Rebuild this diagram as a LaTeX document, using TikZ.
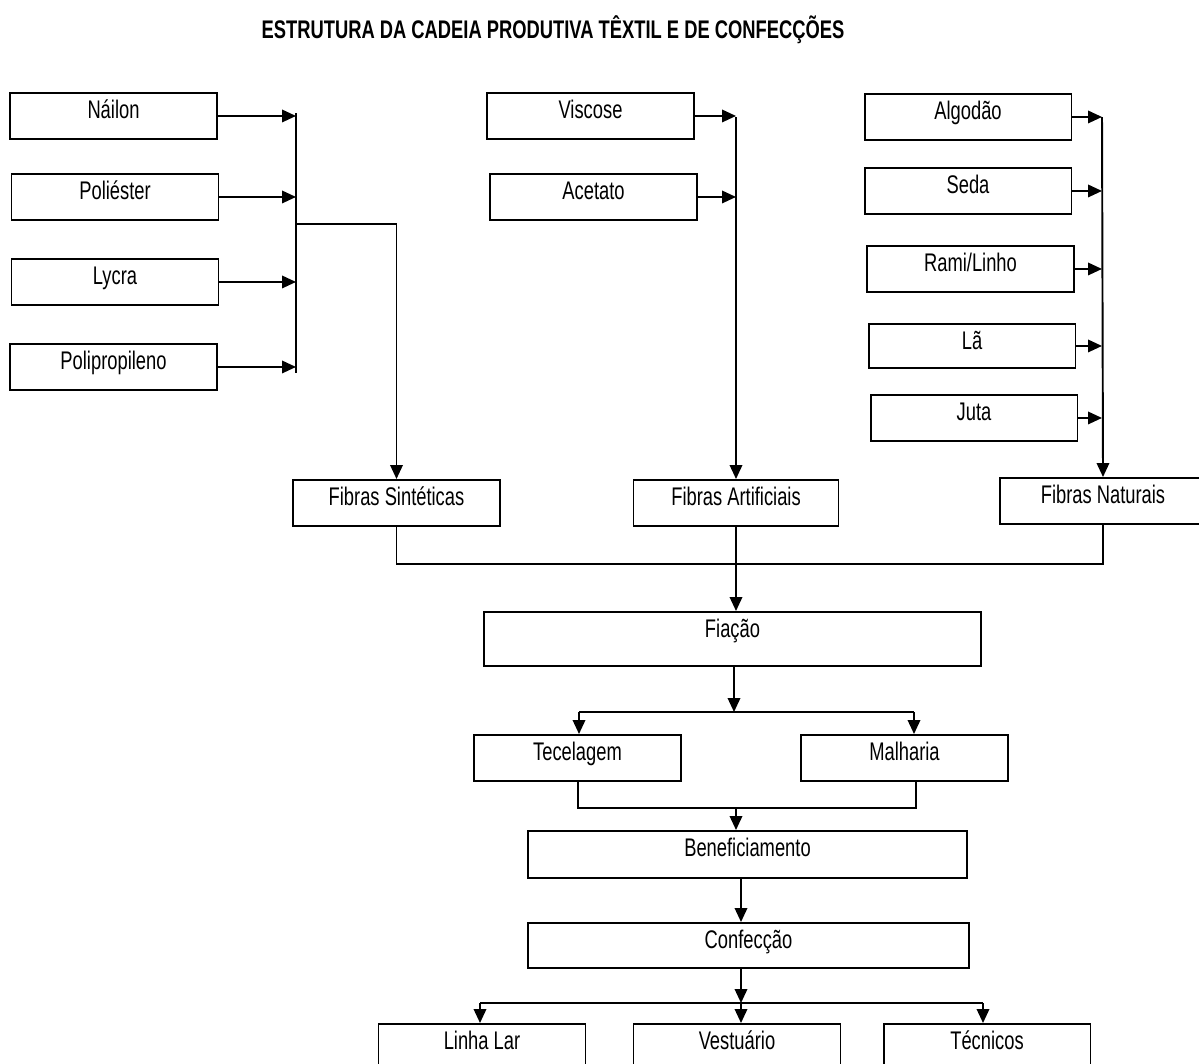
\documentclass[tikz,border=0pt]{standalone}
\usepackage{fontspec}
\setmainfont{Liberation Sans}[FakeStretch=0.72]
\usetikzlibrary{arrows.meta}
\tikzset{
  caixa/.style={draw,line width=1.1pt,anchor=north,inner sep=0pt,minimum width=4.14cm,text height=0.52cm,text depth=0.4cm,font=\fontsize{14.5}{17}\selectfont},
  seta/.style={line width=1.1pt,-{Triangle[length=0.28cm,width=0.25cm]}},
  liga/.style={line width=1.1pt}
}
\newcommand{\caixa}[4][]{\node[caixa,#1] (#2) at #3 {#4};}
\newcommand{\entra}[2]{\draw[seta] (#1.east) -- (#1.east -| #2);}

\begin{document}
\begin{tikzpicture}[x=0.02cm,y=-0.02cm]
\path[use as bounding box,clip] (0,0) rectangle (1199,1063);
\node[font=\fontsize{14.5}{17}\bfseries\selectfont,anchor=base] (titulo) at (553,38) {ESTRUTURA DA CADEIA PRODUTIVA TÊXTIL E DE CONFECÇÕES};
\caixa{nailon}{(113.5,92)}{Náilon}
\caixa{poliester}{(115,173)}{Poliéster}
\caixa{lycra}{(115,258)}{Lycra}
\caixa{poliprop}{(113.5,343)}{Polipropileno}
\caixa{viscose}{(590.5,92)}{Viscose}
\caixa{acetato}{(593.5,173)}{Acetato}
\caixa{algodao}{(968,93)}{Algodão}
\caixa{seda}{(968,167)}{Seda}
\caixa{rami}{(970.5,245)}{Rami/Linho}
\caixa[text depth=0.36cm]{la}{(972,323)}{Lã}
\caixa{juta}{(974,394)}{Juta}
\caixa{sint}{(396.5,479)}{Fibras Sintéticas}
\caixa[minimum width=4.1cm]{art}{(736,479)}{Fibras Artificiais}
\caixa{nat}{(1103,477)}{Fibras Naturais}
\caixa[minimum width=9.94cm,text depth=0.56cm]{fiacao}{(732.5,611)}{Fiação}
\caixa{tecel}{(577.5,734)}{Tecelagem}
\caixa{malha}{(904.5,734)}{Malharia}
\caixa[minimum width=8.78cm,text depth=0.42cm]{benef}{(747.5,830)}{Beneficiamento}
\caixa[minimum width=8.82cm,text depth=0.38cm]{confec}{(748.5,922)}{Confecção}
\caixa{lar}{(482,1023)}{Linha Lar}
\caixa{vest}{(737,1023)}{Vestuário}
\caixa{tecn}{(987,1023)}{Técnicos}
\coordinate (sintBus) at (296,113);
\coordinate (sintFim) at (296,373);
\coordinate (sintSai) at (296,224);
\coordinate (artBus) at (736,117);
\coordinate (natBus) at (1102,117);
\coordinate (fibBus) at (392,564);
\coordinate (fiaBus) at (734,712);
\coordinate (tecCanto) at (579,712);
\coordinate (malCanto) at (914,712);
\coordinate (tecBase) at (578,808);
\coordinate (malBase) at (916,808);
\coordinate (benEntra) at (736,808);
\coordinate (eixo) at (741,1003);
\coordinate (larCanto) at (480,1003);
\coordinate (tecnCanto) at (983,1003);
\draw[liga] (sintBus) -- (sintFim);
\entra{nailon}{sintBus} \entra{poliester}{sintBus} \entra{lycra}{sintBus} \entra{poliprop}{sintBus}
\draw[seta] (sintSai) -| (sint.north);
\draw[seta] (artBus) -- (art.north);
\entra{viscose}{artBus} \entra{acetato}{artBus}
\draw[seta] (natBus) -- (nat.north);
\entra{algodao}{natBus} \entra{seda}{natBus} \entra{rami}{natBus} \entra{la}{natBus} \entra{juta}{natBus}
\draw[liga] (sint.south) |- (nat.south |- fibBus) -- (nat.south);
\draw[seta] (art.south) -- (art.south |- fiacao.north);
\draw[seta] (fiacao.south -| fiaBus) -- (fiaBus);
\draw[liga] (tecCanto) -- (malCanto);
\draw[seta] (tecCanto) -- (tecCanto |- tecel.north);
\draw[seta] (malCanto) -- (malCanto |- malha.north);
\draw[liga] (tecBase |- tecel.south) -- (tecBase) -- (malBase) -- (malBase |- malha.south);
\draw[seta] (benEntra) -- (benEntra |- benef.north);
\draw[seta] (benef.south -| eixo) -- (confec.north -| eixo);
\draw[seta] (confec.south -| eixo) -- (eixo);
\draw[liga] (larCanto) -- (tecnCanto);
\draw[seta] (larCanto) -- (larCanto |- lar.north);
\draw[seta] (eixo) -- (eixo |- vest.north);
\draw[seta] (tecnCanto) -- (tecnCanto |- tecn.north);
\end{tikzpicture}
\end{document}
